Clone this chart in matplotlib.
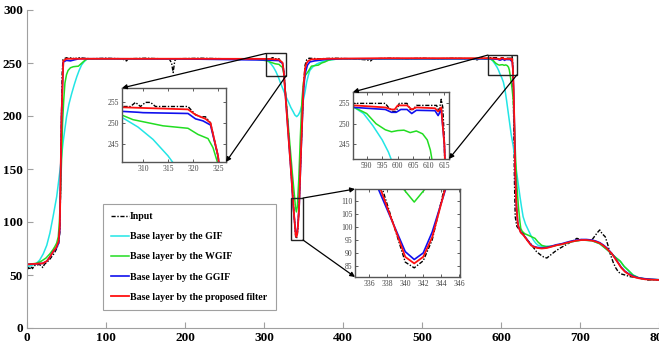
import matplotlib
matplotlib.use("Agg")
import matplotlib.pyplot as plt
from matplotlib.patches import Rectangle, ConnectionPatch

plt.rcParams['font.family'] = ['Liberation Serif', 'DejaVu Serif']

# ---- data ----
input_x = [0, 2, 3, 5, 7, 9, 12, 15, 18, 20, 22, 25, 28, 31, 34, 37, 40, 41.5, 42.5, 43.5, 44.5, 45.5,
           47, 50, 53, 56, 60, 65, 80, 100, 120, 126, 128, 150, 170, 180, 183, 185, 187, 189, 220,
           250, 280, 300, 306, 307.5, 308.5, 309.5, 310.5, 311.5, 312.5, 319, 320.5, 321.5, 322.5,
           323.5, 325, 330, 335, 337.5, 340, 341, 342, 343, 344.3, 347, 350, 352, 354, 357, 370,
           390, 410, 430, 435, 438, 460, 480, 500, 520, 540, 560, 570, 575, 580, 586, 596, 597,
           598.5, 599.5, 600.5, 603, 604, 605, 606, 612.5, 613.3, 614, 614.5, 615, 616, 617, 618,
           620, 624, 628, 630, 633, 637, 641, 645, 650, 654, 658, 663, 668, 674, 681, 689, 693,
           696, 700, 706, 712, 715, 718, 722, 725, 728, 732, 735, 738, 742, 745, 748.5, 752, 757,
           763, 770, 778, 786, 793, 800]
input_y = [55, 57, 55, 58, 56, 59, 59, 60, 59, 57, 60, 62, 64, 67, 70, 74, 80, 90, 130, 190, 240, 253,
           254, 255, 254, 255, 254, 255, 254, 254.5, 254, 252, 254, 254.5, 254, 254, 250, 241, 252,
           254, 254.5, 254, 254, 254, 254, 254, 255, 254, 255, 255, 254, 254, 252, 251.5, 251.5,
           250, 242, 195, 140, 114, 86.5, 84.3, 87, 95, 114, 170, 228, 248, 253, 254.5, 254,
           254.5, 254, 253, 252, 254, 254.5, 254, 254.5, 254, 254.5, 254, 253, 255, 254, 255, 255, 254,
           253, 253, 255, 255, 253.5, 253.5, 254.5, 254.5, 253, 256, 254, 246, 200, 140, 105,
           96, 92, 90, 86, 83, 80, 76, 72, 69, 67, 66, 69, 72, 75, 78, 81.4, 83,
           84.6, 83.5, 83, 83, 83, 86, 90, 92.5, 89, 86, 79, 70.4, 62, 57, 53, 51, 50,
           48.5, 47.8, 46.5, 45.3, 45.5, 45]

gif_x = [0, 6, 12, 16, 20.6, 25, 29, 33, 37.6, 41.8, 46, 50, 53, 56.5, 60, 63, 66, 69, 72, 75.5, 80,
         100, 200, 295, 300, 303, 306, 309, 312, 315, 318, 321, 324.5, 328, 330.8, 334, 337, 339,
         341.4, 343.5, 345.6, 347.5, 349.8, 352, 354, 356, 358, 362, 366.7, 371, 375, 380, 385.5,
         395, 500, 575, 580, 583, 586, 589, 592, 595, 597, 598.5, 601, 603, 605, 607, 609, 611,
         613, 615.6, 618, 620, 622, 624, 626, 628, 631, 634.5, 638, 641, 644, 647, 652, 657, 664,
         670, 680, 690, 702, 715, 725, 734, 740, 746, 751, 756, 761, 767, 774, 782, 790, 800]
gif_y = [58, 59, 61, 64, 70, 78, 89.6, 105, 124, 149, 177, 199, 211, 221, 230, 237, 243, 248, 251,
         253.5, 254, 254, 254, 254, 253.5, 252.5, 251.2, 249, 246, 242, 237, 231, 224.5, 218, 213.5,
         208, 204, 201, 199.4, 201, 204, 209, 215, 223, 232, 238, 243, 246.5, 249, 250.5, 251.5,
         252.3, 253, 254, 254, 254, 253.8, 254, 254, 252.5, 249.5, 246, 243, 240, 236, 232, 225,
         215, 204, 193, 182, 171, 157, 146, 135, 124, 114, 105, 98, 92.5, 87, 83, 80, 78, 77, 77,
         77, 78, 79.5, 81.5, 83, 82.4, 79.5, 74, 70, 66, 63, 58, 54.5, 50, 47.5, 46.3, 45.8, 45.5]

wgif_x = [0, 6, 12, 18, 24, 29, 33, 35.4, 37.5, 39.6, 41, 42.6, 44, 45, 46.5, 48, 50, 52, 55, 58.6,
          62, 65, 68, 71, 74, 77.6, 100, 200, 290, 300, 306, 308, 314, 319, 321, 323, 324, 325, 328,
          332, 336, 338.5, 339.8, 341, 342.2, 344, 346, 348, 350, 352, 356, 360, 364, 368.8, 373,
          377, 381, 385, 400, 500, 580, 586, 590, 593, 596, 598, 600, 602, 604, 606, 608, 609.5,
          610.5, 611.5, 612.5, 614, 615.5, 617, 618.5, 620, 622, 624, 625, 627, 630, 636, 643, 647,
          651.5, 657, 664, 670, 680, 690, 702, 715, 725, 734, 740, 746, 751, 756, 761, 767, 774,
          782, 790, 800]
wgif_y = [60, 60.5, 61, 63, 66, 70, 74, 77, 80, 86, 100, 130, 165, 193, 215, 231, 239, 243, 245.5,
          246.5, 246.8, 247, 249, 251, 253, 254, 254, 254, 253.5, 252.5, 251.8, 250.8, 249.3, 248.7,
          247.2, 246.2, 244, 240, 215, 180, 145, 125, 114.5, 109.5, 114.5, 140, 180, 215, 232, 238,
          242, 247, 247.5, 248, 250, 251, 252.5, 253.3, 254, 254, 254.2, 254, 252.5, 250, 248.5,
          248, 248.3, 248.4, 247.8, 248.2, 247.5, 246, 243.5, 239, 234, 226, 215, 190, 160, 135,
          115, 100, 94, 91, 89, 87, 84.6, 81, 78, 76.8, 77, 78, 79.5, 81.5, 83, 82.4, 79.5, 74,
          70, 66, 63, 58, 54.5, 50, 47.5, 46.3, 45.8, 45.5]

ggif_x = [0, 10, 20, 25, 29, 33, 37, 40, 41.5, 42.6, 43.7, 44.7, 46, 50, 55, 60, 66, 100, 200, 280,
          306, 309, 310, 319, 320.5, 322, 323.5, 325, 330, 334, 337, 340, 341, 342, 343, 344.5,
          347, 350, 352, 355, 358, 364, 380, 400, 500, 586, 596, 598, 599.5, 601, 603, 604.5, 606,
          612, 613, 614, 615, 616, 617, 618, 619.5, 621, 622, 625, 628, 631, 634.5, 638, 641, 646,
          651.5, 658, 664, 670, 677, 683, 689, 695, 702, 708, 715, 720, 725, 730, 734, 737, 740,
          744, 748.5, 752, 757, 762, 767, 774, 782, 790, 800]
ggif_y = [60, 60.5, 61, 63, 67, 72, 75, 80, 93, 146, 200, 224, 251, 252.5, 252, 253, 254, 254, 253.8,
          253, 252.8, 252.6, 252.5, 252.3, 251, 250.5, 249.5, 242, 191, 150, 114.5, 90.5, 87.5, 90,
          98, 114.5, 168, 224, 240, 248, 251, 252, 253.5, 254, 254, 254, 253.5, 252.8, 252.8, 253.5,
          253.5, 252.5, 253.3, 253.2, 252, 253.5, 245, 225, 190, 146, 116, 101, 96, 90.5, 88, 85.5,
          82, 78.5, 77, 76, 75.5, 76, 77.2, 78.5, 79.5, 80.8, 82, 82.8, 83.5, 83.5, 83, 82, 80.5,
          78, 75.5, 73, 70.5, 66.5, 61.5, 57.5, 53.5, 51, 49, 47.3, 46.5, 46, 45.5]

prop_x = [0, 10, 20, 25, 29, 33, 37, 40, 41.5, 42.6, 43.7, 44.7, 46, 50, 60, 100, 200, 300, 306, 319,
          320.5, 322.5, 323.5, 325, 330, 335, 337.3, 340, 341, 342, 343, 344.4, 347, 350, 352, 354,
          356, 360, 380, 450, 550, 586, 596, 598, 599, 600, 603, 604.5, 606, 612, 613, 614, 615,
          616, 617, 618, 619.5, 621, 622, 625, 628, 631, 634.5, 638, 641, 646, 651.5, 658, 664, 670,
          677, 683, 689, 695, 702, 708, 715, 720, 725, 730, 734, 737, 740, 744, 748.5, 752, 757,
          762, 767, 774, 782, 790, 800]
prop_y = [60, 60.5, 61, 63, 67, 72, 76, 82, 95, 146, 200, 224.5, 252, 254, 254, 254, 254, 253.9,
          253.8, 253.3, 252, 251, 250, 242, 190, 140, 114, 88.5, 86, 88.5, 96, 114, 170, 228, 245,
          250, 252, 253.5, 254, 254.5, 254.5, 254.5, 254, 253.5, 253.5, 254.5, 254.5, 253.5, 254,
          253.8, 253, 254, 245, 225, 190, 146, 115, 100, 95.6, 90, 88, 85, 81.4, 78, 76.7, 75.5,
          75, 75.5, 76.7, 78, 79, 80.3, 81.4, 82.3, 83, 83, 82.4, 81.5, 80, 77.5, 75, 72.5, 70.4,
          66, 61, 57, 53, 50.5, 48.4, 47, 46, 45.6, 45.3]

labels = ['Input', 'Base layer by the GIF', 'Base layer by the WGIF',
          'Base layer by the GGIF', 'Base layer by the proposed filter']

series = [
    (input_x, input_y, dict(color='black', lw=1.0, ls=(0, (3, 1.2, 1, 1.2)))),
    (gif_x, gif_y, dict(color='#22e5e5', lw=1.1)),
    (wgif_x, wgif_y, dict(color='#22dd22', lw=1.1)),
    (ggif_x, ggif_y, dict(color='#1010ee', lw=1.2)),
    (prop_x, prop_y, dict(color='#ff1010', lw=1.3)),
]

# zoom boxes on the main plot (data coords) and inset views
boxes = [(302.5, 328, 238, 259), (583.5, 620, 238.7, 257.5), (334.2, 349.4, 83, 122.6)]
inset_xlim = [(305.8, 326.6), (585.6, 616.5), (334.4, 346.1)]
inset_ylim = [(240.5, 258.5), (241.3, 257.8), (80.8, 114.5)]
inset_xticks = [[310, 315, 320, 325], [590, 595, 600, 605, 610, 615], [336, 338, 340, 342, 344, 346]]
inset_yticks = [[245, 250, 255], [245, 250, 255], [85, 90, 95, 100, 105, 110]]

W, H = 659, 345
fig = plt.figure(figsize=(W / 100, H / 100), dpi=100)
ax = fig.add_axes([27 / W, 1 - 328 / H, 632 / W, 318 / H])

for (x, y, st), lab in zip(series, labels):
    ax.plot(x, y, label=lab, **st)

ax.set_xlim(0, 800)
ax.set_ylim(0, 300)
ax.set_xticks(range(0, 801, 100))
ax.set_yticks(range(0, 301, 50))
for s in ['top', 'right']:
    ax.spines[s].set_visible(False)
for s in ['left', 'bottom']:
    ax.spines[s].set_color('#a0a0a0')
ax.tick_params(direction='in', length=4, color='#a0a0a0', pad=3)
for t in ax.get_xticklabels() + ax.get_yticklabels():
    t.set_fontweight('bold')
    t.set_fontsize(9.5)

leg = ax.legend(loc='upper left', bbox_to_anchor=(103 / W, 1 - 204 / H), bbox_transform=fig.transFigure,
                fancybox=False, edgecolor='#a0a0a0', framealpha=1, handlelength=1.8, handletextpad=0.1,
                labelspacing=1.12, borderpad=0.85, borderaxespad=0,
                prop=dict(family='Liberation Serif', weight='bold', size=7.1))
leg.get_frame().set_linewidth(0.8)

inset_pos = [(122, 88, 226, 162), (353, 92, 449, 159), (355, 189, 460, 277)]
insets = []
for i, (x0, y0, x1, y1) in enumerate(inset_pos):
    ia = fig.add_axes([x0 / W, 1 - y1 / H, (x1 - x0) / W, (y1 - y0) / H])
    ia.set_zorder(5)
    for (x, y, st) in series:
        ia.plot(x, y, **st)
    ia.set_xlim(*inset_xlim[i])
    ia.set_ylim(*inset_ylim[i])
    ia.set_xticks(inset_xticks[i])
    ia.set_yticks(inset_yticks[i])
    ia.tick_params(direction='in', length=2.5, width=0.6, labelsize=5.5, pad=2,
                   top=True, right=True, colors='#444444')
    for s in ia.spines.values():
        s.set_color('#555555')
        s.set_linewidth(1.0)
    insets.append(ia)

    bx0, bx1, by0, by1 = boxes[i]
    ax.add_patch(Rectangle((bx0, by0), bx1 - bx0, by1 - by0, fill=False, ec='#222222', lw=1.0, zorder=6))

# arrows from zoom boxes to insets
links = [
    ((boxes[0][0], boxes[0][3]), 0, (0, 1)),
    ((boxes[0][1], boxes[0][2]), 0, (1, 0)),
    ((boxes[1][0], boxes[1][3]), 1, (0, 1)),
    ((boxes[1][1], boxes[1][2]), 1, (1, 0)),
    ((boxes[2][1], boxes[2][3]), 2, (0, 1)),
    ((boxes[2][1], boxes[2][2]), 2, (0, 0)),
]
for xyA, k, xyB in links:
    cp = ConnectionPatch(xyA=xyA, coordsA=ax.transData, xyB=xyB, coordsB=insets[k].transAxes,
                         arrowstyle='-|>', mutation_scale=7, color='black', lw=0.9, zorder=10)
    fig.add_artist(cp)

fig.savefig('out.png', dpi=100)
